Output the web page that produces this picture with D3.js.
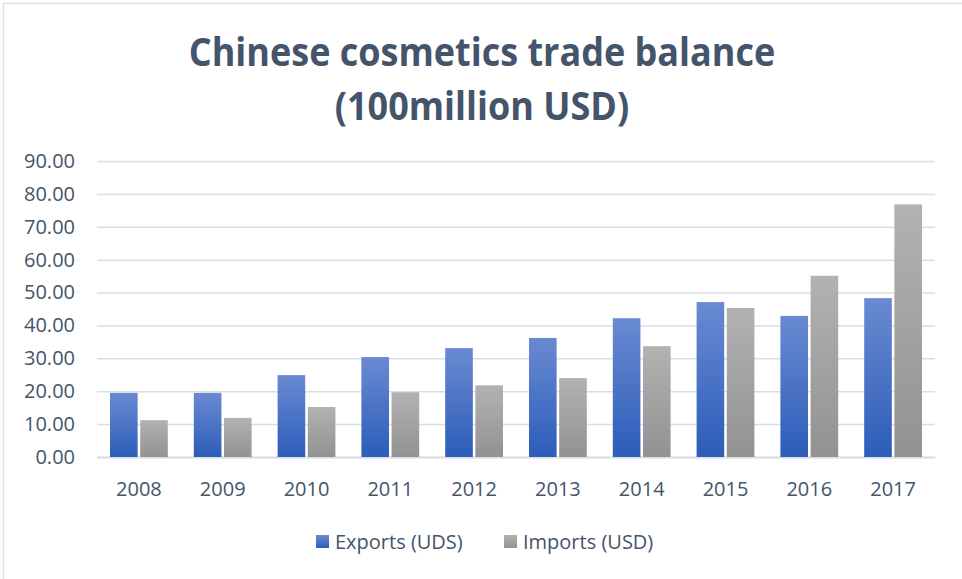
<!DOCTYPE html>
<html>
<head>
<meta charset="utf-8">
<script src="https://cdn.jsdelivr.net/npm/d3@7"></script>
<style>
  html, body { margin: 0; padding: 0; background: #fff; }
  svg { display: block; }
  text { font-family: "Open Sans", "Noto Sans", sans-serif; }
</style>
</head>
<body>
<svg id="chart" width="962" height="579"></svg>
<script>
// Chinese cosmetics trade, in units of 100 million USD
const years = ["2008", "2009", "2010", "2011", "2012", "2013", "2014", "2015", "2016", "2017"];
const exportsUSD = [19.5, 19.5, 24.9, 30.4, 33.1, 36.2, 42.2, 47.1, 42.9, 48.3];
const importsUSD = [11.2, 11.9, 15.2, 19.7, 21.8, 24.0, 33.7, 45.3, 55.1, 76.8];
const yTicks = [0, 10, 20, 30, 40, 50, 60, 70, 80, 90];
const seriesNames = ["Exports (UDS)", "Imports (USD)"];

const svg = d3.select("#chart");
const W = 962, H = 579;
const margin = { top: 161, right: 27, bottom: 122, left: 97 };
const innerW = W - margin.left - margin.right;
const innerH = H - margin.top - margin.bottom;
const textColor = "#44546A";
const gridColor = "#D9DEE4";

// Frame around the chart area
svg.append("rect")
  .attr("x", 3.5).attr("y", 3.5)
  .attr("width", W + 10).attr("height", H + 10)
  .attr("fill", "#fff").attr("stroke", "#DDE3EA").attr("stroke-width", 1.5);

// Bar gradients (lighter at top, deeper at base)
const defs = svg.append("defs");
const grads = [
  { id: "gExp", top: "#6A8AD2", bottom: "#2C5DB9" },
  { id: "gImp", top: "#B2B2B2", bottom: "#929292" }
];
grads.forEach(g => {
  const lg = defs.append("linearGradient").attr("id", g.id)
    .attr("x1", 0).attr("y1", 0).attr("x2", 0).attr("y2", 1);
  lg.append("stop").attr("offset", "0%").attr("stop-color", g.top);
  lg.append("stop").attr("offset", "100%").attr("stop-color", g.bottom);
});

// Title, slightly condensed horizontally
const title = svg.append("g").attr("transform", `translate(${W / 2 + 1},0) scale(0.9,1)`);
title.append("text").attr("y", 66).attr("text-anchor", "middle")
  .attr("font-size", 40).attr("font-weight", "bold").attr("fill", textColor)
  .text("Chinese cosmetics trade balance");
title.append("text").attr("y", 120).attr("text-anchor", "middle")
  .attr("font-size", 40).attr("font-weight", "bold").attr("fill", textColor)
  .text("(100million USD)");

const g = svg.append("g").attr("transform", `translate(${margin.left},${margin.top})`);

const x = d3.scaleBand().domain(years).range([0, innerW]).paddingInner(0).paddingOuter(0);
const y = d3.scaleLinear().domain([0, 90]).range([innerH, 0]);

// Horizontal gridlines
g.append("g").attr("class", "grid")
  .call(d3.axisLeft(y).tickValues(yTicks).tickSize(-innerW).tickFormat(""))
  .call(a => a.select(".domain").remove())
  .call(a => a.selectAll("line").attr("stroke", gridColor).attr("stroke-width", 1.5));

// Y axis labels
g.append("g")
  .call(d3.axisLeft(y).tickValues(yTicks).tickSize(0).tickPadding(22).tickFormat(d3.format(".2f")))
  .call(a => a.select(".domain").remove())
  .call(a => a.selectAll("text").attr("font-size", 20).attr("fill", textColor)
    .style("font-family", "'Open Sans', sans-serif"));

// X axis
g.append("g").attr("transform", `translate(0,${innerH})`)
  .call(d3.axisBottom(x).tickSize(0).tickPadding(25))
  .call(a => a.select(".domain").attr("stroke", gridColor).attr("stroke-width", 2))
  .call(a => a.selectAll("text").attr("font-size", 20).attr("fill", textColor)
    .style("font-family", "'Open Sans', sans-serif"));

// Bars
const sub = d3.scaleBand().domain(["exp", "imp"]).range([13, x.bandwidth() - 13]).paddingInner(0.085);
const rows = years.map((yr, i) => ({ yr, exp: exportsUSD[i], imp: importsUSD[i] }));
const groups = g.selectAll(".yr").data(rows).join("g")
  .attr("transform", d => `translate(${x(d.yr)},0)`);
groups.selectAll("rect")
  .data(d => [{ k: "exp", v: d.exp }, { k: "imp", v: d.imp }])
  .join("rect")
  .attr("x", d => sub(d.k))
  .attr("width", sub.bandwidth())
  .attr("y", d => y(d.v))
  .attr("height", d => y(0) - y(d.v))
  .attr("fill", d => d.k === "exp" ? "url(#gExp)" : "url(#gImp)");

// Legend
const legend = svg.append("g").attr("transform", "translate(316,535)");
const legendItems = [
  { name: seriesNames[0], fill: "url(#gExp)", x: 0 },
  { name: seriesNames[1], fill: "url(#gImp)", x: 188 }
];
legendItems.forEach(it => {
  legend.append("rect").attr("x", it.x).attr("y", 0).attr("width", 13).attr("height", 13).attr("fill", it.fill);
  legend.append("text").attr("x", it.x + 19).attr("y", 14).attr("font-size", 20).attr("fill", textColor).text(it.name);
});
</script>
</body>
</html>
